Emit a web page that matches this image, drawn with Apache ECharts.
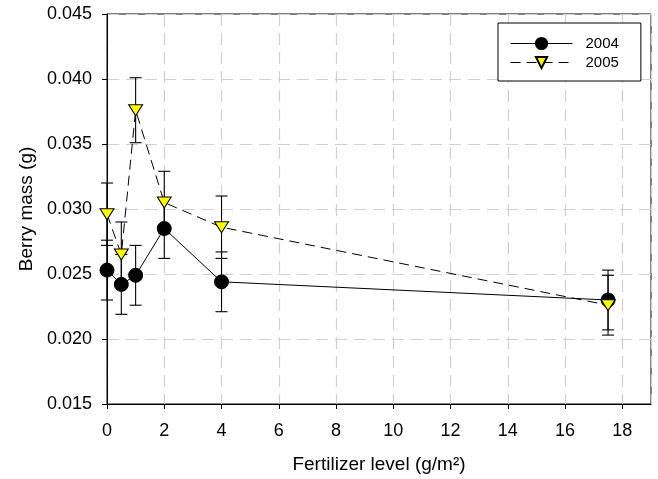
<!DOCTYPE html>
<html>
<head>
<meta charset="utf-8">
<script src="https://cdn.jsdelivr.net/npm/echarts@6/dist/echarts.min.js"></script>
<style>
html,body{margin:0;padding:0;background:#fff;}
#chart{width:658px;height:479px;}
</style>
</head>
<body>
<div id="chart"></div>
<script>
// ---- data ----
const fertilizer = [0, 0.5, 1, 2, 4, 17.5];
const mass2004 = [0.0253, 0.0242, 0.0249, 0.0285, 0.0244, 0.0230];
const err2004  = [0.0023, 0.0023, 0.0023, 0.0023, 0.0023, 0.0023];
const mass2005 = [0.0296, 0.0265, 0.0376, 0.0305, 0.0286, 0.0226];
const err2005  = [0.0024, 0.0025, 0.0025, 0.0024, 0.0024, 0.0023];
const seriesNames = ['2004', '2005'];

const FONT = 'Liberation Sans, Arial, Helvetica, sans-serif';
const chart = echarts.init(document.getElementById('chart'), null, {renderer: 'canvas'});

function pts(xs, ys) { return xs.map((x, i) => [x, ys[i]]); }
function errData(xs, ys, es) { return xs.map((x, i) => [x, ys[i] - es[i], ys[i] + es[i]]); }

function errRender(params, api) {
  const x = api.value(0), lo = api.value(1), hi = api.value(2);
  const pLo = api.coord([x, lo]);
  const pHi = api.coord([x, hi]);
  const cap = 6;
  const style = {stroke: '#000', lineWidth: 1.1};
  return {
    type: 'group',
    children: [
      {type: 'line', shape: {x1: pLo[0], y1: pLo[1], x2: pHi[0], y2: pHi[1]}, style: style},
      {type: 'line', shape: {x1: pLo[0] - cap, y1: pLo[1], x2: pLo[0] + cap, y2: pLo[1]}, style: style},
      {type: 'line', shape: {x1: pHi[0] - cap, y1: pHi[1], x2: pHi[0] + cap, y2: pHi[1]}, style: style}
    ]
  };
}

const tri = 'path://M0,0 L14,0 L7,11 Z';

const option = {
  animation: false,
  backgroundColor: '#fff',
  textStyle: {fontFamily: FONT},
  grid: {left: 107, right: 7, top: 14, bottom: 74, show: true, borderColor: '#000', borderWidth: 1, backgroundColor: 'transparent'},
  legend: {
    data: seriesNames,
    orient: 'vertical',
    left: 498, top: 23,
    padding: [13, 22, 11, 12],
    itemWidth: 62, itemHeight: 14, itemGap: 4,
    borderColor: '#000', borderWidth: 1,
    backgroundColor: '#fff',
    lineStyle: {width: 1},
    textStyle: {fontFamily: FONT, fontSize: 15, color: '#000', padding: [0, 0, 0, 8]}
  },
  xAxis: {
    type: 'value', min: 0, max: 19, interval: 2,
    name: 'Fertilizer level (g/m²)', nameLocation: 'middle', nameGap: 51,
    nameTextStyle: {fontFamily: FONT, fontSize: 19, color: '#000'},
    axisLine: {show: true, onZero: false, lineStyle: {color: '#000', width: 1}},
    axisTick: {show: true, inside: false, length: 5, lineStyle: {color: '#000'}},
    axisLabel: {fontFamily: FONT, fontSize: 18, color: '#000', margin: 18, showMaxLabel: false},
    splitLine: {show: true, lineStyle: {color: '#d0d0d0', width: 1.2, type: [12, 7]}}
  },
  yAxis: {
    type: 'value', min: 0.015, max: 0.045, interval: 0.005,
    name: 'Berry mass (g)', nameLocation: 'middle', nameGap: 63, nameRotate: 90,
    nameTextStyle: {fontFamily: FONT, fontSize: 19, color: '#000'},
    axisLine: {show: true, onZero: false, lineStyle: {color: '#000', width: 1}},
    axisTick: {show: true, inside: false, length: 5, lineStyle: {color: '#000'}},
    axisLabel: {fontFamily: FONT, fontSize: 18, color: '#000', margin: 15, formatter: v => v.toFixed(3)},
    splitLine: {show: true, lineStyle: {color: '#d0d0d0', width: 1.2, type: [12, 7]}}
  },
  series: [
    {
      name: 'err2004', type: 'custom', renderItem: errRender,
      data: errData(fertilizer, mass2004, err2004), encode: {x: 0, y: [1, 2]}, z: 2, clip: false, silent: true
    },
    {
      name: 'err2005', type: 'custom', renderItem: errRender,
      data: errData(fertilizer, mass2005, err2005), encode: {x: 0, y: [1, 2]}, z: 2, clip: false, silent: true
    },
    {
      name: seriesNames[0], type: 'line', data: pts(fertilizer, mass2004),
      symbol: 'circle', symbolSize: 14, showAllSymbol: true, clip: false, z: 3,
      lineStyle: {color: '#000', width: 1, type: 'solid'},
      itemStyle: {color: '#000', borderColor: '#000', borderWidth: 1}
    },
    {
      name: seriesNames[1], type: 'line', data: pts(fertilizer, mass2005),
      symbol: tri, symbolSize: [14, 11], showAllSymbol: true, clip: false, z: 4,
      lineStyle: {color: '#000', width: 1, type: [10, 6]},
      itemStyle: {color: '#ffff00', borderColor: '#000', borderWidth: 1}
    }
  ]
};
chart.setOption(option);
</script>
</body>
</html>
